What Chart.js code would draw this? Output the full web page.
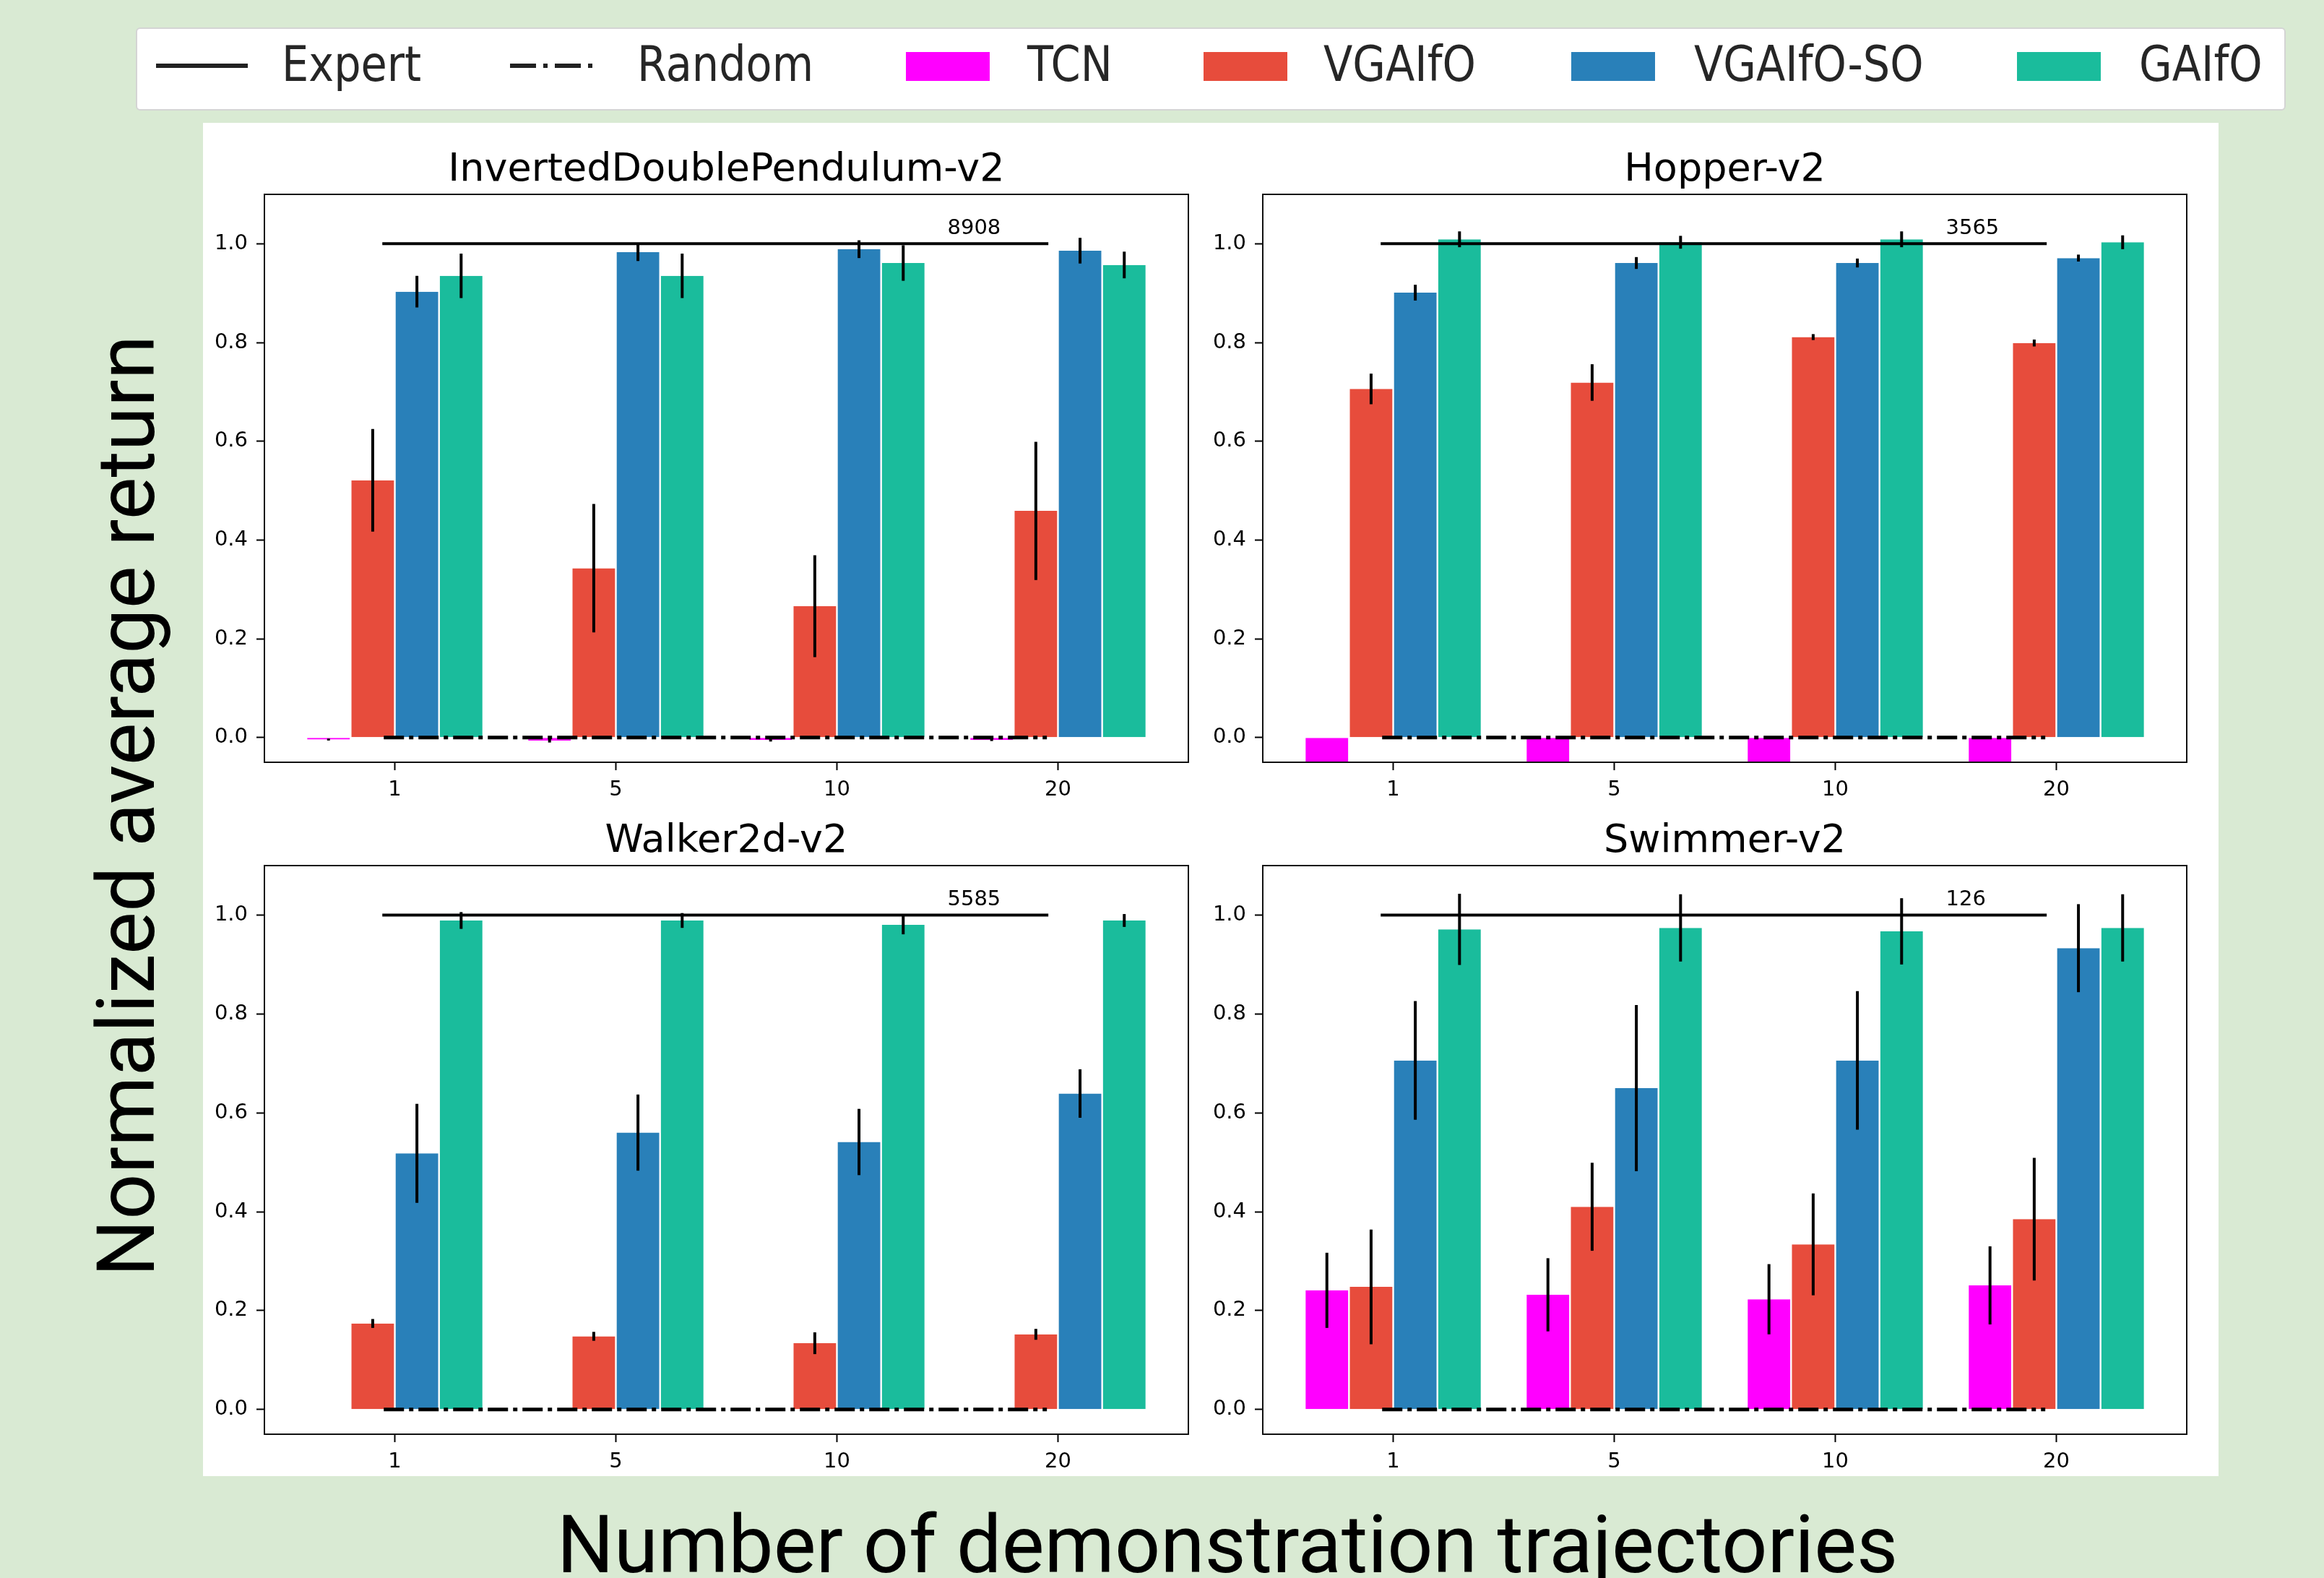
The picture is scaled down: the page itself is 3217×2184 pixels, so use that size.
<!DOCTYPE html>
<html>
<head>
<meta charset="utf-8">
<title>Normalized average return vs. number of demonstration trajectories</title>
<script src="https://cdn.jsdelivr.net/npm/chart.js@4.4.1/dist/chart.umd.min.js"></script>
<style>
  html, body { margin: 0; padding: 0; }
  body {
    width: 3217px; height: 2184px; position: relative; overflow: hidden;
    background: #d9ead3; font-family: 'DejaVu Sans', sans-serif;
  }
  #panel { position: absolute; left: 281px; top: 170px; width: 2790px; height: 1873px; background: #ffffff; }
  .plot { position: absolute; }
  #legend {
    position: absolute; left: 188px; top: 38px; width: 2976px; height: 115px;
    box-sizing: border-box; background: #ffffff; border: 2px solid #d4d4d4; border-radius: 6px;
  }
  .legend-item { position: absolute; }
  .legend-text {
    position: absolute; top: 56px; font-family: 'DejaVu Sans', sans-serif; font-size: 67px;
    line-height: 67px; white-space: nowrap; color: #262626;
    transform: scaleX(0.88); transform-origin: left center;
  }
  .axis-title {
    position: absolute; font-family: 'Roboto', sans-serif; font-size: 111px; line-height: 111px;
    height: 111px; text-align: center; white-space: nowrap; color: #000;
  }
  #ylabel { left: -575px; top: 1060px; width: 1500px; transform: rotate(-90deg); transform-origin: center center; }
  #xlabel { left: 199px; top: 2083px; width: 3000px; }
</style>
</head>
<body>
<div id="panel"></div>
<div id="legend"></div>
<div id="legend-items"></div>
<canvas id="plot0" class="plot" width="1449" height="947" style="left:281px;top:168px;"></canvas>
<canvas id="plot1" class="plot" width="1449" height="947" style="left:1663px;top:168px;"></canvas>
<canvas id="plot2" class="plot" width="1449" height="948" style="left:281px;top:1097px;"></canvas>
<canvas id="plot3" class="plot" width="1449" height="948" style="left:1663px;top:1097px;"></canvas>
<div id="ylabel" class="axis-title">Normalized average return</div>
<div id="xlabel" class="axis-title">Number of demonstration trajectories</div>

<script>
// ---- data -------------------------------------------------------------
const trajectoryCounts = ['1', '5', '10', '20'];
const envNames = ['InvertedDoublePendulum-v2', 'Hopper-v2', 'Walker2d-v2', 'Swimmer-v2'];
const expertScores = ['8908', '3565', '5585', '126'];
const seriesNames = ['TCN', 'VGAIfO', 'VGAIfO-SO', 'GAIfO'];
const referenceNames = ['Expert', 'Random'];
const yTickValues = [0, 0.2, 0.4, 0.6, 0.8, 1.0];

// normalized expert / random return per environment
const expertNormalized = [1.0, 1.0, 1.0, 1.0];
const randomNormalized = [0.0, 0.0, 0.0, 0.0];

// mean and std of normalized return: one row per environment, one column per trajectory count
const tcnMean = [
  [-0.004, -0.006, -0.005, -0.005],
  [-0.05, -0.05, -0.05, -0.05],
  [0, 0, 0, 0],
  [0.241, 0.232, 0.223, 0.251]
];
const tcnStd = [
  [0.002, 0.004, 0.003, 0.002],
  [0, 0, 0, 0],
  [0, 0, 0, 0],
  [0.076, 0.074, 0.071, 0.079]
];
const vgaifoMean = [
  [0.521, 0.343, 0.266, 0.459],
  [0.706, 0.719, 0.811, 0.799],
  [0.174, 0.148, 0.134, 0.152],
  [0.248, 0.410, 0.334, 0.385]
];
const vgaifoStd = [
  [0.104, 0.130, 0.103, 0.140],
  [0.031, 0.037, 0.006, 0.007],
  [0.009, 0.009, 0.022, 0.011],
  [0.116, 0.089, 0.103, 0.124]
];
const vgaifoSoMean = [
  [0.903, 0.983, 0.989, 0.986],
  [0.901, 0.961, 0.961, 0.971],
  [0.518, 0.560, 0.541, 0.639],
  [0.706, 0.650, 0.706, 0.933]
];
const vgaifoSoStd = [
  [0.032, 0.018, 0.018, 0.026],
  [0.016, 0.012, 0.009, 0.007],
  [0.100, 0.077, 0.067, 0.049],
  [0.120, 0.168, 0.140, 0.089]
];
const gaifoMean = [
  [0.935, 0.935, 0.961, 0.957],
  [1.009, 1.003, 1.009, 1.003],
  [0.989, 0.989, 0.980, 0.989],
  [0.971, 0.974, 0.967, 0.974]
];
const gaifoStd = [
  [0.045, 0.045, 0.036, 0.027],
  [0.016, 0.013, 0.016, 0.014],
  [0.017, 0.015, 0.019, 0.013],
  [0.072, 0.068, 0.067, 0.068]
];

// ---- styling ----------------------------------------------------------
const barColors = ['#ff00ff', '#e74c3c', '#2980b9', '#1abc9c'];
const meanTables = [tcnMean, vgaifoMean, vgaifoSoMean, gaifoMean];
const stdTables = [tcnStd, vgaifoStd, vgaifoSoStd, gaifoStd];
const randomDash = [28, 7, 6, 7];

Chart.defaults.font.family = "'DejaVu Sans', sans-serif";
Chart.defaults.color = '#000';

// vertical error bars centred on each bar
const errorBarPlugin = {
  id: 'errorBars',
  afterDatasetsDraw(chart) {
    const { ctx, chartArea, scales: { y } } = chart;
    ctx.save();
    ctx.beginPath();
    ctx.rect(chartArea.left, chartArea.top, chartArea.width, chartArea.height);
    ctx.clip();
    ctx.strokeStyle = '#000';
    ctx.lineWidth = 4;
    chart.data.datasets.forEach((ds, di) => {
      if (!ds.errorBars) return;
      const meta = chart.getDatasetMeta(di);
      meta.data.forEach((bar, i) => {
        const e = ds.errorBars[i];
        if (!e) return;
        const v = ds.data[i].y;
        ctx.beginPath();
        ctx.moveTo(bar.x, y.getPixelForValue(v - e));
        ctx.lineTo(bar.x, y.getPixelForValue(v + e));
        ctx.stroke();
      });
    });
    ctx.restore();
  }
};

// raw expert return written above the expert line
const expertLabelPlugin = {
  id: 'expertLabel',
  afterDatasetsDraw(chart, args, opts) {
    const { ctx, scales: { x, y } } = chart;
    ctx.save();
    ctx.font = "29px 'DejaVu Sans'";
    ctx.fillStyle = '#000';
    ctx.textAlign = 'left';
    ctx.textBaseline = 'alphabetic';
    ctx.fillText(opts.text, x.getPixelForValue(opts.x), y.getPixelForValue(opts.y));
    ctx.restore();
  }
};

// box around the plotting area
const framePlugin = {
  id: 'frame',
  afterDraw(chart) {
    const { ctx, chartArea: a } = chart;
    ctx.save();
    ctx.strokeStyle = '#111';
    ctx.lineWidth = 2;
    ctx.strokeRect(a.left, a.top, a.right - a.left, a.bottom - a.top);
    ctx.restore();
  }
};

function buildPanel(k) {
  const bars = seriesNames.map((name, s) => ({
    type: 'bar',
    label: name,
    data: meanTables[s][k].map((v, i) => ({ x: i, y: v })),
    errorBars: stdTables[s][k],
    backgroundColor: barColors[s],
    borderColor: '#ffffff',
    borderWidth: { left: 1.2, right: 1.2, top: 0, bottom: 0 },
    borderSkipped: false,
    categoryPercentage: 0.8,
    barPercentage: 1.0,
    order: 1
  }));
  const lastIdx = trajectoryCounts.length - 1;
  const lines = [
    {
      type: 'line', label: referenceNames[0],
      data: [{ x: -0.05, y: expertNormalized[k] }, { x: lastIdx - 0.05, y: expertNormalized[k] }],
      borderColor: '#000', borderWidth: 4, borderCapStyle: 'square',
      pointRadius: 0, fill: false, order: 0
    },
    {
      type: 'line', label: referenceNames[1],
      data: [{ x: -0.05, y: randomNormalized[k] }, { x: lastIdx - 0.05, y: randomNormalized[k] }],
      borderColor: '#000', borderWidth: 5, borderDash: randomDash, borderCapStyle: 'butt',
      pointRadius: 0, fill: false, order: 0
    }
  ];

  new Chart(document.getElementById('plot' + k), {
    type: 'bar',
    data: { datasets: bars.concat(lines) },
    plugins: [errorBarPlugin, expertLabelPlugin, framePlugin],
    options: {
      responsive: false,
      animation: false,
      devicePixelRatio: 1,
      layout: { padding: 0 },
      plugins: {
        legend: { display: false },
        tooltip: { enabled: false },
        title: {
          display: true,
          text: envNames[k],
          font: { size: 54, weight: 'normal' },
          color: '#000',
          padding: { top: 36, bottom: 0.2 }
        },
        expertLabel: { text: expertScores[k], x: 2.5, y: 1.02 }
      },
      scales: {
        x: {
          type: 'linear',
          min: -0.59, max: 3.59,
          offset: false,
          grid: { display: true, drawOnChartArea: false, drawTicks: true, tickLength: 11, tickWidth: 2, tickColor: '#000', offset: false },
          border: { display: false },
          afterBuildTicks: (scale) => { scale.ticks = trajectoryCounts.map((_, i) => ({ value: i })); },
          afterFit: (scale) => { scale.height = 60; },
          ticks: {
            autoSkip: false, maxRotation: 0, padding: 10,
            font: { size: 29 }, color: '#000',
            callback: (v) => trajectoryCounts[v]
          }
        },
        y: {
          type: 'linear',
          min: -0.05, max: 1.1,
          grid: { display: true, drawOnChartArea: false, drawTicks: true, tickLength: 11, tickWidth: 2, tickColor: '#000' },
          border: { display: false },
          afterBuildTicks: (scale) => { scale.ticks = yTickValues.map((v) => ({ value: v })); },
          afterFit: (scale) => { scale.width = 85; },
          ticks: {
            padding: 12,
            font: { size: 29 }, color: '#000',
            callback: (v) => v.toFixed(1)
          }
        },
        // empty right-hand gutter so the panel title centres over the plot
        yGutter: {
          type: 'linear',
          position: 'right',
          min: -0.05, max: 1.1,
          grid: { display: false },
          border: { display: false },
          ticks: { display: false },
          afterFit: (scale) => { scale.width = 85; }
        }
      }
    }
  });
}

envNames.forEach((_, k) => buildPanel(k));

// ---- shared legend ----------------------------------------------------
(function buildLegend() {
  const host = document.getElementById('legend-items');
  const add = (html) => { host.insertAdjacentHTML('beforeend', html); };
  // Expert: solid line, Random: dash-dot line
  add('<div class="legend-item" style="left:216px;top:88px;width:127px;height:6px;background:#222;"></div>');
  add('<svg class="legend-item" style="left:706px;top:85px;" width="124" height="12">' +
      '<line x1="0" y1="6" x2="124" y2="6" stroke="#222" stroke-width="6" stroke-dasharray="36 10 6 10"/></svg>');
  const textLeft = [390, 882, 1422, 1832, 2345, 2961];
  const patchLeft = [1254, 1666, 2175, 2792];
  const names = referenceNames.concat(seriesNames);
  names.forEach((name, i) => {
    add('<div class="legend-text" style="left:' + textLeft[i] + 'px;">' + name + '</div>');
  });
  seriesNames.forEach((name, s) => {
    add('<div class="legend-item" style="left:' + patchLeft[s] + 'px;top:72px;width:116px;height:40px;background:' + barColors[s] + ';"></div>');
  });
})();
</script>
</body>
</html>
